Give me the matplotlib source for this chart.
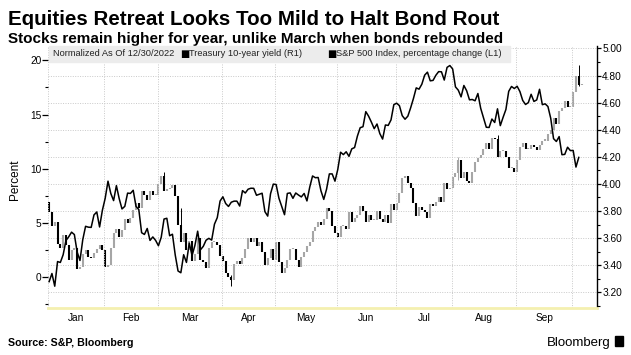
import numpy as np
import matplotlib.pyplot as plt
from matplotlib.patches import Rectangle

# x axis is trading days from 3 Jan 2023 (index 0)
months = ["Jan", "Feb", "Mar", "Apr", "May", "Jun", "Jul", "Aug", "Sep"]
month_start = [0, 20, 39, 62, 81, 103, 124, 144, 167, 187]

# S&P 500, % change since 12/30/2022 (L1), daily closes to 4 Oct
spx_pct = [
    -0.40, 0.35, -0.82, 1.45, 1.37, 2.08, 3.39, 3.74, 4.16, 3.94,
    2.33, 1.55, 3.47, 4.70, 4.62, 4.60, 5.75, 6.02, 4.64, 6.18,
    7.28, 8.86, 7.73, 7.07, 8.45, 7.25, 6.30, 6.54, 7.76, 7.73,
    8.02, 6.54, 6.24, 4.11, 3.95, 4.50, 3.40, 3.72, 3.40,
    2.91, 3.69, 5.37, 5.44, 3.83, 3.97, 2.05, 0.58, 0.42, 2.08,
    1.37, 3.15, 2.01, 2.92, 4.25, 2.54, 2.85, 3.42, 3.59, 3.43,
    4.90, 5.50, 7.03,
    7.42, 6.80, 6.53, 6.92, 7.02, 7.02, 6.57, 7.99, 7.77, 8.12,
    8.21, 8.20, 7.56, 7.66, 7.75, 6.05, 5.64, 7.70, 8.59,
    8.55, 7.29, 6.54, 5.77, 7.73, 7.78, 7.28, 7.77, 7.58, 7.41,
    7.73, 7.04, 8.32, 9.34, 9.18, 9.20, 7.97, 7.18, 8.12, 9.53,
    9.53, 8.86,
    9.94, 11.53, 11.31, 11.57, 11.15, 11.84, 11.96, 13.01, 13.79, 13.88,
    15.27, 14.85, 14.30, 13.70, 14.13, 13.25, 12.74, 14.04, 14.00, 14.51,
    15.91,
    16.05, 15.82, 14.90, 14.57, 14.85, 15.62, 16.48, 17.46, 17.34, 17.80,
    18.63, 18.91, 18.11, 18.15, 18.62, 18.96, 18.94, 18.18, 19.35, 19.52,
    19.20, 17.55, 17.25, 16.63, 17.68, 17.19, 16.36, 16.39, 16.27, 16.94,
    15.58, 14.71, 13.83, 13.81, 14.59, 14.27, 15.53, 13.98, 14.75, 15.47,
    17.14, 17.59, 17.40,
    17.61, 17.12, 16.30, 15.93, 16.10, 16.87, 16.21, 16.35, 17.33, 15.91,
    15.99, 15.74, 14.65, 12.78, 12.52, 12.97, 11.30, 11.33, 11.99, 11.68,
    11.69, 10.16, 11.05,
]

# Treasury 10-year yield (R1), daily closes to 5 Oct
ust_close = [
    3.79, 3.69, 3.72, 3.56, 3.53, 3.62, 3.55, 3.44, 3.51, 3.53,
    3.37, 3.39, 3.48, 3.51, 3.46, 3.45, 3.49, 3.52, 3.55, 3.51,
    3.39, 3.40, 3.53, 3.64, 3.67, 3.61, 3.66, 3.74, 3.71, 3.75,
    3.81, 3.86, 3.82, 3.95, 3.92, 3.88, 3.95, 3.92, 3.92,
    4.00, 4.06, 3.95, 3.96, 3.97, 3.99, 3.91, 3.70, 3.57, 3.64,
    3.51, 3.58, 3.43, 3.48, 3.60, 3.44, 3.42, 3.38, 3.53, 3.57,
    3.57, 3.55, 3.47,
    3.43, 3.34, 3.31, 3.29, 3.41, 3.43, 3.41, 3.45, 3.52, 3.60,
    3.57, 3.60, 3.54, 3.57, 3.50, 3.40, 3.45, 3.52, 3.44,
    3.57, 3.42, 3.34, 3.38, 3.44, 3.52, 3.52, 3.44, 3.39, 3.46,
    3.50, 3.54, 3.57, 3.65, 3.68, 3.72, 3.70, 3.74, 3.82, 3.80,
    3.69, 3.64,
    3.61, 3.69, 3.69, 3.67, 3.79, 3.72, 3.75, 3.77, 3.84, 3.80,
    3.72, 3.77, 3.73, 3.73, 3.80, 3.74, 3.72, 3.77, 3.71, 3.85,
    3.81,
    3.86, 3.93, 4.04, 4.06, 4.01, 3.97, 3.86, 3.76, 3.83, 3.81,
    3.79, 3.75, 3.85, 3.84, 3.87, 3.90, 3.87, 4.01, 3.96, 3.97,
    4.05, 4.08, 4.18, 4.04, 4.09, 4.02, 4.01, 4.09, 4.16, 4.19,
    4.21, 4.26, 4.30, 4.26, 4.34, 4.33, 4.20, 4.24, 4.24, 4.20,
    4.12, 4.12, 4.09,
    4.18, 4.27, 4.30, 4.26, 4.26, 4.29, 4.27, 4.25, 4.29, 4.32,
    4.32, 4.37, 4.40, 4.49, 4.44, 4.54, 4.56, 4.61, 4.57, 4.57,
    4.68, 4.80, 4.73, 4.74,
]
ust_last_2022 = 3.87

# a few long wicks that stand out
wick_day = [41, 47, 65, 146, 160, 189]
wick_lo = [3.98, 3.68, 3.25, 4.03, 4.28, 4.72]
wick_hi = [4.09, 3.82, 3.33, 4.20, 4.36, 4.88]

fig = plt.figure(figsize=(6.31, 3.55), dpi=100)
W, H = 631, 355
ax = fig.add_axes([48.3 / W, 1 - 308 / H, (596.7 - 48.3) / W, (308 - 46) / H])
ax2 = ax.twinx()

tick_font = dict(family=["Liberation Sans", "DejaVu Sans"], size=7.3)

# month grid
for m in month_start:
    ax.axvline(m - 0.3, color="#c9c9c9", lw=0.7, ls=(0, (1, 1.5)), zorder=0)
ax2.grid(axis="y", which="major", color="#c9c9c9", lw=0.7, ls=(0, (1, 1.5)))
ax2.set_axisbelow(True)

# yield candles
close = np.array(ust_close)
opn = np.r_[ust_last_2022, close[:-1]]
xd = np.arange(len(close))
cols = np.where(close < opn, "black", "#a6a6a6")
lo = np.minimum(opn, close)
hi = np.maximum(np.maximum(opn, close), lo + 0.008)
ax2.vlines(wick_day, wick_lo, wick_hi, colors=cols[wick_day], lw=0.7, zorder=3)
ax2.vlines(xd, lo, hi, colors=cols, lw=1.5, zorder=3)

# S&P line
ax.plot(np.arange(len(spx_pct)), spx_pct, color="black", lw=1.1, zorder=4)
ax.set_zorder(ax2.get_zorder() + 1)
ax.patch.set_visible(False)

ax.set_xlim(-0.3, 195.4)
ax.set_ylim(-2.83, 21.32)
ax2.set_ylim(3.084, 5.018)

ax.set_yticks([0, 5, 10, 15, 20])
ax.set_yticks(np.arange(-2.5, 21, 2.5), minor=True)
ax.set_yticklabels(["0", "5", "10", "15", "20"], **tick_font)
ax.tick_params(axis="y", which="major", direction="out", length=4, width=0.9, pad=1)
ax.tick_params(axis="y", which="minor", direction="out", length=2, width=0.8)

r_ticks = np.arange(3.2, 5.01, 0.2)
ax2.set_yticks(r_ticks)
ax2.set_yticks(np.arange(3.1, 5.01, 0.1), minor=True)
ax2.set_yticklabels([f"{t:.2f}" for t in r_ticks], **tick_font)
ax2.tick_params(axis="y", which="major", direction="out", length=3, width=0.9, pad=1)
ax2.tick_params(axis="y", which="minor", direction="out", length=1.8, width=0.8)

mids = [(month_start[i] + month_start[i + 1]) / 2 - 0.3 for i in range(len(months))]
ax.set_xticks(mids)
ax.set_xticklabels(months, **tick_font)
ax.tick_params(axis="x", length=0, pad=3.5)

for a in (ax, ax2):
    for s in ("top", "left", "right", "bottom"):
        a.spines[s].set_visible(False)
ax.spines["bottom"].set_visible(True)
ax.spines["bottom"].set_color("#f4f0b0")
ax.spines["bottom"].set_linewidth(2)
ax2.spines["right"].set_visible(True)
ax2.spines["right"].set_linewidth(1)

ax.text(mids[4], -28 / 262, "2023", transform=ax.get_yaxis_transform(),
        ha="center", va="center", **tick_font)
fig.text(15 / W, 1 - 180 / H, "Percent", rotation=90, ha="center", va="center",
         family=["Liberation Sans", "DejaVu Sans"], size=8.5)

# legend strip
fig.patches.append(Rectangle((49.3 / W, 1 - 62 / H), (510 - 49.3) / W, 16 / H,
                             transform=fig.transFigure, color="#ececec", zorder=5))
leg_font = dict(family=["Liberation Sans", "DejaVu Sans"], size=6.7, color="#222222", va="center", zorder=6)
sq_font = dict(family="DejaVu Sans", size=7, color="black", va="center", zorder=6)
fig.text(53.3 / W, 1 - 54 / H, "Normalized As Of 12/30/2022", **leg_font)
fig.text(180 / W, 1 - 53.5 / H, "\u25a0", **sq_font)
fig.text(189 / W, 1 - 54 / H, "Treasury 10-year yield (R1)", **leg_font)
fig.text(327 / W, 1 - 53.5 / H, "\u25a0", **sq_font)
fig.text(336 / W, 1 - 54 / H, "S&P 500 Index, percentage change (L1)", **leg_font)

fig.text(8 / W, 1 - 25 / H, "Equities Retreat Looks Too Mild to Halt Bond Rout",
         family="Liberation Sans", weight="bold", size=14.8, va="baseline")
fig.text(8 / W, 1 - 43 / H, "Stocks remain higher for year, unlike March when bonds rebounded",
         family="Liberation Sans", weight="bold", size=11, va="baseline")
fig.text(8 / W, 1 - 346 / H, "Source: S&P, Bloomberg",
         family="Liberation Sans", weight="bold", size=7.7, va="baseline")
fig.text(611 / W, 1 - 346 / H, "Bloomberg", family="Liberation Sans",
         size=9.5, ha="right", va="baseline")
fig.patches.append(Rectangle((615 / W, 1 - 346 / H), 8 / W, 10 / H,
                             transform=fig.transFigure, color="black"))

fig.savefig("out.png", dpi=100)
